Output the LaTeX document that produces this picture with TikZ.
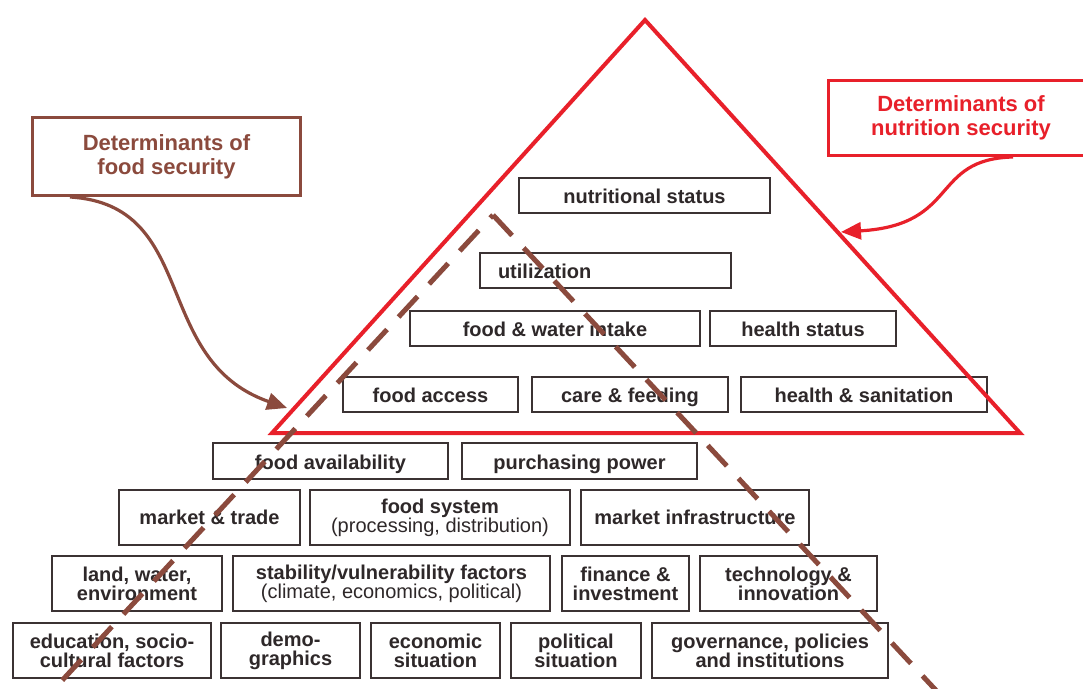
\documentclass[tikz,border=0pt]{standalone}
\usepackage{fontspec}
\setmainfont{Liberation Sans}
\usetikzlibrary{arrows.meta}
\definecolor{fsbrown}{HTML}{8B4A3D}
\definecolor{nsred}{HTML}{E8202A}
\definecolor{boxgray}{HTML}{3B3233}
\definecolor{txtdark}{HTML}{2E2829}

\begin{document}
\begin{tikzpicture}[x=1pt, y=-1pt,
    cell/.style={draw=boxgray, line width=2.4pt, inner sep=0pt, align=center, text=txtdark, font=\fontsize{20}{19}\selectfont\bfseries},
    flat/.style={cell, minimum height=35pt, text height=18pt, text depth=2pt},
    tall/.style={cell, minimum height=55pt},
    lab/.style={line width=3pt, inner sep=0pt, align=center, font=\fontsize{22}{24}\selectfont\bfseries},
    >={Triangle[length=20pt, width=17pt]}]
    \useasboundingbox (0,0) rectangle (1083,688);
    \clip (0,0) rectangle (1083,688);
    \fill[white] (0,0) rectangle (1083,688);

    % nutrition pyramid
    \node[flat, minimum width=251pt] (nutstat) at (644.5,195.5) {nutritional status};
    \node[flat, minimum width=251pt, text width=215pt, align=left] (util) at (605.5,270.5) {utilization};
    \node[flat, minimum width=290pt] (intake) at (555,328.5) {food \& water intake};
    \node[flat, minimum width=186pt] (hstat) at (803,328.5) {health status};
    \node[flat, minimum width=175pt] (access) at (430.5,394.5) {food access};
    \node[flat, minimum width=196pt] (care) at (630,394.5) {care \& feeding};
    \node[flat, minimum width=246pt] (hsan) at (864,394.5) {health \& sanitation};

    % food security rows
    \node[flat, minimum width=235pt, minimum height=36pt] (avail) at (330.5,461) {food availability};
    \node[flat, minimum width=235pt, minimum height=36pt] (power) at (579.5,461) {purchasing power};

    \node[tall, minimum width=181pt] (trade) at (209.5,517.5) {market \& trade};
    \node[tall, minimum width=260pt] (foodsys) at (440,517.5) {food system\\{\mdseries(processing, distribution)}};
    \node[tall, minimum width=228pt] (infra) at (695,517.5) {market infrastructure};

    \node[tall, minimum width=170pt] (land) at (137,583.5) {land, water,\\environment};
    \node[tall, minimum width=317pt] (stab) at (391.5,583.5) {stability/vulnerability factors\\{\mdseries(climate, economics, political)}};
    \node[tall, minimum width=127pt] (finance) at (625.5,583.5) {finance \&\\investment};
    \node[tall, minimum width=177pt] (tech) at (788.5,583.5) {technology \&\\innovation};

    \node[tall, minimum width=198pt] (edu) at (112,650.5) {education, socio-\\cultural factors};
    \node[tall, minimum width=139pt] (demo) at (290.5,650.5) {demo-\\graphics};
    \node[tall, minimum width=129pt] (econ) at (435.5,650.5) {economic\\situation};
    \node[tall, minimum width=130pt] (polit) at (576,650.5) {political\\situation};
    \node[tall, minimum width=236pt] (gov) at (770,650.5) {governance, policies\\and institutions};

    % red triangle
    \coordinate (top) at (645,20);
    \coordinate (baseL) at (272,433);
    \coordinate (baseR) at (1020,433);
    \draw[nsred, line width=4pt] (top) -- (baseL) -- (baseR) -- cycle;

    % brown dashed triangle
    \coordinate (fsapex) at (493,215);
    \draw[fsbrown, line width=5pt, dash pattern=on 28pt off 17pt, dash phase=24pt] (fsapex) -- (44,700);
    \draw[fsbrown, line width=5pt, dash pattern=on 28pt off 17pt] (fsapex) -- (945,700);

    % labels
    \node[lab, draw=fsbrown, text=fsbrown, minimum width=268pt, minimum height=78pt] (fslab) at (166.5,156.5) {Determinants of\\food security};
    \node[lab, draw=nsred, text=nsred, minimum width=265pt, minimum height=75pt] (nslab) at (961,118) {Determinants of\\nutrition security};

    \coordinate (fsend) at (287,408);
    \coordinate (nsend) at (841,232);
    \draw[fsbrown, line width=3.2pt, ->] ([xshift=39pt]fslab.south west) .. controls +(130,8) and +(-137,-48) .. (fsend);
    \draw[nsred, line width=3.2pt, ->] ([xshift=186pt]nslab.south west) .. controls +(-83,2) and +(119,-7) .. (nsend);
\end{tikzpicture}
\end{document}
